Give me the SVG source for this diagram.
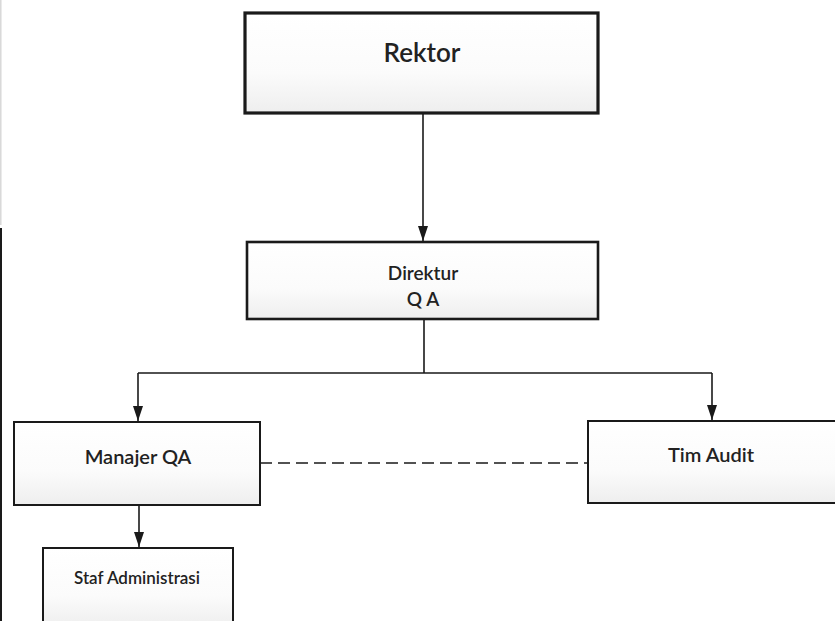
<svg xmlns="http://www.w3.org/2000/svg" width="835" height="621" viewBox="0 0 835 621">
<style>
.box{fill:url(#g);stroke:#1a1a1a;stroke-width:2}
.lbl{font-family:Lato,"Open Sans","Liberation Sans",sans-serif;fill:#222;text-anchor:middle;font-weight:600}
.con{fill:none;stroke:#1a1a1a;stroke-width:1.6}
</style>
<defs>
<linearGradient id="g" x1="0" y1="0" x2="0" y2="1">
<stop offset="0" stop-color="#ffffff"/>
<stop offset="0.6" stop-color="#fbfbfb"/>
<stop offset="1" stop-color="#eeeeee"/>
</linearGradient>
<marker id="arr" markerUnits="userSpaceOnUse" markerWidth="16" markerHeight="12" refX="15" refY="5" orient="auto" viewBox="0 0 16 10">
<path d="M0,0 L15,5 L0,10 Z" fill="#1a1a1a"/>
</marker>
</defs>
<rect width="835" height="621" fill="#ffffff"/>
<line x1="0.8" y1="0" x2="0.8" y2="225" stroke="#d8d8d8" stroke-width="1.5"/>
<line x1="1" y1="228" x2="1" y2="621" stroke="#1a1a1a" stroke-width="2"/>
<g id="connectors">
<path class="con" d="M423,113 V241" marker-end="url(#arr)"/>
<path class="con" d="M424,319 V373 M138,373 H712"/>
<path class="con" d="M138,373 V421" marker-end="url(#arr)"/>
<path class="con" d="M712,373 V420" marker-end="url(#arr)"/>
<path class="con" d="M139,505 V547" marker-end="url(#arr)"/>
<path class="con" d="M260,463 H588" stroke-dasharray="12,6"/>
</g>
<g id="rektor">
<rect class="box" x="245" y="13" width="353" height="100" style="stroke-width:3.2"/>
<text class="lbl" x="422" y="62" font-size="26">Rektor</text>
</g>
<g id="direktur">
<rect class="box" x="247" y="242" width="351" height="77" style="stroke-width:2.6"/>
<text class="lbl" x="423" y="280" font-size="19">Direktur</text>
<text class="lbl" x="423" y="306" font-size="19">Q A</text>
</g>
<g id="manajer">
<rect class="box" x="14" y="422" width="246" height="83"/>
<text class="lbl" x="138" y="464" font-size="20">Manajer QA</text>
</g>
<g id="timaudit">
<rect class="box" x="588" y="421" width="260" height="82"/>
<text class="lbl" x="711" y="462" font-size="20">Tim Audit</text>
</g>
<g id="staf">
<rect class="box" x="43" y="548" width="190" height="80"/>
<text class="lbl" x="137" y="584" font-size="17">Staf Administrasi</text>
</g>
</svg>
